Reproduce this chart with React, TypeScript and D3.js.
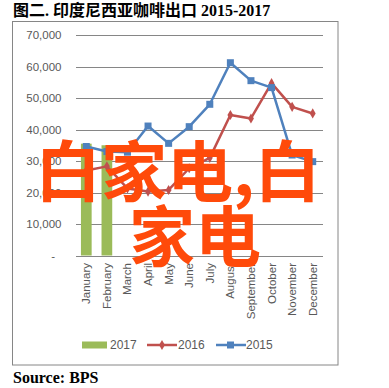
import React from "react";
import * as d3 from "d3";

const months = ["January","February","March","April","May","June","July","August","September","October","November","December"];
const values2017 = [35500, 35000];
const values2016 = [27000, 28300, 21300, 20300, 20800, 27700, 31000, 44600, 43500, 54700, 47200, 45100];
const values2015 = [34600, 33000, 32800, 41100, 35600, 40900, 48000, 61200, 55500, 53300, 31900, 29800];
const yTicks = [0, 10000, 20000, 30000, 40000, 50000, 60000, 70000];
const legendItems = ["2017", "2016", "2015"];

const W = 389, H = 388;
const C17 = "#9BBB59", C16 = "#C0504D", C15 = "#4F81BD";

export default function App() {
  const x = d3.scaleBand<string>().domain(months).range([76, 323]).padding(0);
  const y = d3.scaleLinear().domain([0, 70000]).range([255.5, 35]);
  const cx = (m: string) => (x(m) as number) + x.bandwidth() / 2;
  const line = d3.line<number>().x((_, i) => cx(months[i])).y((d) => y(d));
  const bw = x.bandwidth() * 0.52;
  const fmt = d3.format(",");
  const lab = "Liberation Sans, Arial, sans-serif";

  return (
    <svg width={W} height={H} style={{ position: "absolute", left: 0, top: 0, background: "#fff" }}>
      <rect x={0} y={0} width={W} height={H} fill="#fff" />
      <text x={13} y={16} fontFamily="'Liberation Serif', 'Noto Sans CJK SC', serif" fontWeight="bold" fontSize={16} fill="#000">
        图二. 印度尼西亚咖啡出口 2015-2017
      </text>
      <rect x={12.5} y={21.5} width={325.5} height={343.5} fill="#fff" stroke="#868686" strokeWidth={1} />
      {yTicks.map((t) => (
        <g key={t}>
          <line x1={76} x2={323} y1={Math.round(y(t)) + 0.5} y2={Math.round(y(t)) + 0.5} stroke="#868686" strokeWidth={1} />
          <text x={t === 0 ? 55 : 61.5} y={y(t)} dy="0.35em" textAnchor="end" fontFamily={lab} fontSize={11.5} fill="#595959">
            {t === 0 ? "-" : fmt(t)}
          </text>
        </g>
      ))}
      {months.map((m) => (
        <text key={m} transform={`translate(${cx(m)},${263}) rotate(-90)`} dy="0.35em" textAnchor="end" fontFamily={lab} fontSize={11.5} fill="#595959">
          {m}
        </text>
      ))}
      {values2017.map((v, i) => (
        <rect key={i} x={cx(months[i]) - bw / 2} y={y(v)} width={bw} height={y(0) - y(v)} fill={C17} />
      ))}
      <path d={line(values2016) || ""} fill="none" stroke={C16} strokeWidth={2.5} strokeLinejoin="round" />
      {values2016.map((v, i) => (
        <path key={i} d={d3.symbol(d3.symbolDiamond, 30)() || ""} transform={`translate(${cx(months[i])},${y(v)})`} fill={C16} />
      ))}
      <path d={line(values2015) || ""} fill="none" stroke={C15} strokeWidth={2.5} strokeLinejoin="round" />
      {values2015.map((v, i) => (
        <rect key={i} x={cx(months[i]) - 3.5} y={y(v) - 3.5} width={7} height={7} fill={C15} />
      ))}
      {/* legend */}
      <g fontFamily={lab} fontSize={12} fill="#595959">
        <rect x={82} y={341.5} width={25} height={7} fill={C17} />
        <text x={110} y={345} dy="0.35em">{legendItems[0]}</text>
        <line x1={147} x2={177} y1={345} y2={345} stroke={C16} strokeWidth={2.5} />
        <path d={d3.symbol(d3.symbolDiamond, 30)() || ""} transform="translate(162,345)" fill={C16} />
        <text x={178} y={345} dy="0.35em">{legendItems[1]}</text>
        <line x1={216} x2={246} y1={345} y2={345} stroke={C15} strokeWidth={2.5} />
        <rect x={227} y={341.5} width={7} height={7} fill={C15} />
        <text x={246} y={345} dy="0.35em">{legendItems[2]}</text>
      </g>
      <text x={13} y={383} fontFamily="'Liberation Serif', serif" fontWeight="bold" fontSize={16} fill="#000">
        Source: BPS
      </text>
      <g fontFamily="'Noto Sans CJK SC', sans-serif" fontWeight="bold" fontSize={66} fill="#FF4A0A">
        <text x={35} y={196}>白家电,白</text>
        <text x={129} y={261}>家电</text>
      </g>
    </svg>
  );
}
